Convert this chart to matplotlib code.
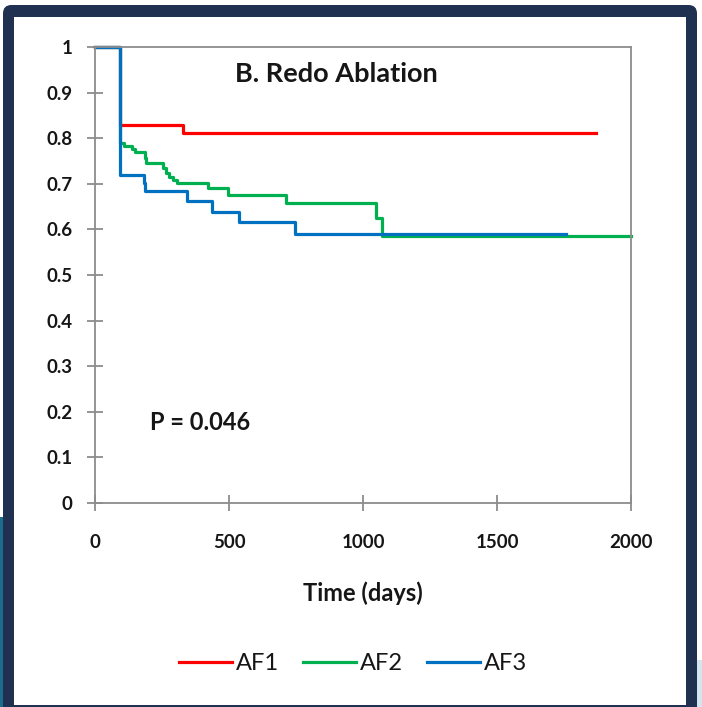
import matplotlib.pyplot as plt
from matplotlib.patches import FancyBboxPatch, Rectangle

#%% data
red_days = [0, 95, 330, 1870]
red_surv = [1.0, 0.830, 0.811, 0.811]

green_days = [0, 95, 110, 137, 150, 187, 192, 255, 265, 277, 290, 305, 423, 495, 714, 1050, 1072, 2000]
green_surv = [1.0, 0.790, 0.782, 0.776, 0.769, 0.756, 0.745, 0.734, 0.723, 0.716, 0.708, 0.701,
              0.690, 0.675, 0.657, 0.624, 0.586, 0.586]

blue_days = [0, 95, 181, 187, 344, 437, 537, 746, 1756]
blue_surv = [1.0, 0.719, 0.701, 0.684, 0.662, 0.639, 0.617, 0.589, 0.589]

x_ticks = [0, 500, 1000, 1500, 2000]
y_ticks = [0, 0.1, 0.2, 0.3, 0.4, 0.5, 0.6, 0.7, 0.8, 0.9, 1]
y_ticklabels = ["0", "0.1", "0.2", "0.3", "0.4", "0.5", "0.6", "0.7", "0.8", "0.9", "1"]

#%% figure and slide frame
W, H = 702, 707
fig = plt.figure(figsize=(W / 100, H / 100), dpi=100)
fig.patch.set_facecolor("white")

navy = "#1f3050"
txt = "#161616"
grey = "#8c8c8c"

def fx(px):
    return px / W

def fy(py):
    return 1 - py / H

# background slide bits peeking out at the edges
fig.patches.append(Rectangle((fx(0), fy(707)), fx(5), fy(517) - fy(707), zorder=-10,
                             transform=fig.transFigure, facecolor="#1b6d8c", edgecolor="none"))
fig.patches.append(Rectangle((fx(696), fy(707)), fx(6), fy(660) - fy(707), zorder=-10,
                             transform=fig.transFigure, facecolor="#d3e5ee", edgecolor="none"))
# dark rounded frame
fig.patches.append(FancyBboxPatch((fx(3), fy(720)), fx(694), fy(5) - fy(720), zorder=-9,
                                  boxstyle="round,pad=0,rounding_size=0.012",
                                  transform=fig.transFigure, facecolor=navy, edgecolor="none"))
fig.patches.append(Rectangle((fx(14), fy(705)), fx(672), fy(17) - fy(705), zorder=-8,
                             transform=fig.transFigure, facecolor="white", edgecolor="none"))

#%% axes
ax = fig.add_axes([fx(95), fy(503), fx(631) - fx(95), fy(47) - fy(503)])
ax.set_facecolor("white")

lw = 2.3
ax.step(red_days, red_surv, where="post", color="#ff0000", lw=lw, label="AF1", clip_on=False)
ax.step(green_days, green_surv, where="post", color="#00b050", lw=lw, label="AF2", clip_on=False)
ax.step(blue_days, blue_surv, where="post", color="#0070c0", lw=lw, label="AF3", clip_on=False)

ax.set_xlim(0, 2000)
ax.set_ylim(0, 1)
ax.set_xticks(x_ticks)
ax.set_yticks(y_ticks)
ax.set_yticklabels(y_ticklabels)

for s in ax.spines.values():
    s.set_color(grey)
    s.set_linewidth(1.3)

ax.tick_params(direction="inout", length=11.5, width=1.3, color=grey, labelcolor=txt)
ax.tick_params(axis="y", pad=10.5)
ax.tick_params(axis="x", pad=16.5)
for lab in ax.get_xticklabels() + ax.get_yticklabels():
    lab.set_fontfamily("Lato")
    lab.set_fontweight("bold")
    lab.set_fontsize(13.5)

ax.set_xlabel("Time (days)", fontfamily="Lato", fontweight="bold", fontsize=17,
              color=txt, labelpad=22)

ax.text(0.45, 0.94, "B. Redo Ablation", transform=ax.transAxes, ha="center", va="center",
        fontfamily="Lato", fontweight="bold", fontsize=19.5, color=txt)
ax.text(0.103, 0.177, "P = 0.046", transform=ax.transAxes, ha="left", va="center",
        fontfamily="Lato", fontweight="bold", fontsize=17, color=txt)

fig.legend(loc="center", bbox_to_anchor=(fx(353), fy(664)), ncol=3, frameon=False,
           prop={"family": "Lato", "size": 17}, labelcolor=txt,
           handlelength=2.25, handletextpad=0.17, columnspacing=1.0)

fig.savefig("out.png", dpi=100)
